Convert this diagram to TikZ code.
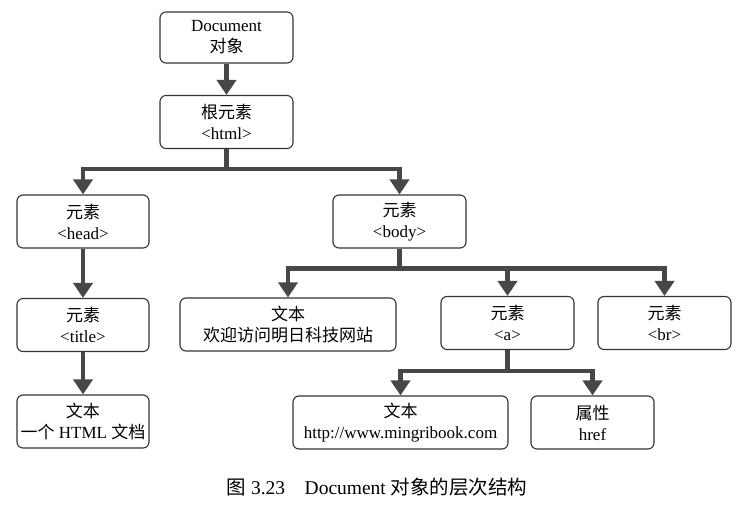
\documentclass[tikz,border=0pt]{standalone}
\usepackage{fontspec}
\setmainfont{Liberation Serif}
\newfontfamily\cjk{Noto Sans CJK SC}
\usetikzlibrary{arrows.meta}
\tikzset{
  box/.style={draw=black!80, line width=1.1pt, rounded corners=6pt, align=center,
    inner sep=0pt, font=\fontsize{17}{21}\selectfont, minimum height=53pt},
  conn/.style={draw=black!72, line width=4.2pt, line join=miter,
    -{Triangle[width=19pt,length=15pt]}},
  caption/.style={font=\fontsize{19.5}{23}\selectfont, inner sep=0pt}
}
\begin{document}
\begin{tikzpicture}[x=1pt,y=-1pt]
\useasboundingbox (0,0) rectangle (749,508);
\node[box, minimum width=133pt, minimum height=51pt] (doc) at (226.5,37.5) {Document\\{\cjk 对象}};
\node[box, minimum width=133pt] (html) at (226.5,122) {{\cjk 根元素}\\<html>};
\node[box, minimum width=132pt] (head) at (83,221.5) {{\cjk 元素}\\<head>};
\node[box, minimum width=133pt] (body) at (399.5,221.5) {{\cjk 元素}\\<body>};
\node[box, minimum width=132pt] (title) at (83,325) {{\cjk 元素}\\<title>};
\node[box, minimum width=132pt] (txt) at (83,421.5) {{\cjk 文本}\\{\cjk 一个} HTML {\cjk 文档}};
\node[box, minimum width=216pt] (wel) at (288,324.5) {{\cjk 文本}\\{\cjk 欢迎访问明日科技网站}};
\node[box, minimum width=133pt] (a) at (507.5,323) {{\cjk 元素}\\<a>};
\node[box, minimum width=133pt] (br) at (664.5,323) {{\cjk 元素}\\<br>};
\node[box, minimum width=215pt] (http) at (400.5,422.5) {{\cjk 文本}\\http://www.mingribook.com};
\node[box, minimum width=123pt] (href) at (592.5,422.5) {{\cjk 属性}\\href};
\node[caption] (cap) at (377,487) {{\cjk 图} 3.23\quad Document {\cjk 对象的层次结构}};

\draw[conn] (doc) -- (html);
\draw[conn] (html.south) -- ++(0,20) -| (head.north);
\draw[conn] (html.south) -- ++(0,20) -| (body.north);
\draw[conn] (head) -- (title);
\draw[conn] (title) -- (txt);
\draw[conn] (body.south) -- ++(0,20) -| (wel.north);
\draw[conn] (body.south) -- ++(0,20) -| (a.north);
\draw[conn] (body.south) -- ++(0,20) -| (br.north);
\draw[conn] (a.south) -- ++(0,21) -| (http.north);
\draw[conn] (a.south) -- ++(0,21) -| (href.north);
\end{tikzpicture}
\end{document}
